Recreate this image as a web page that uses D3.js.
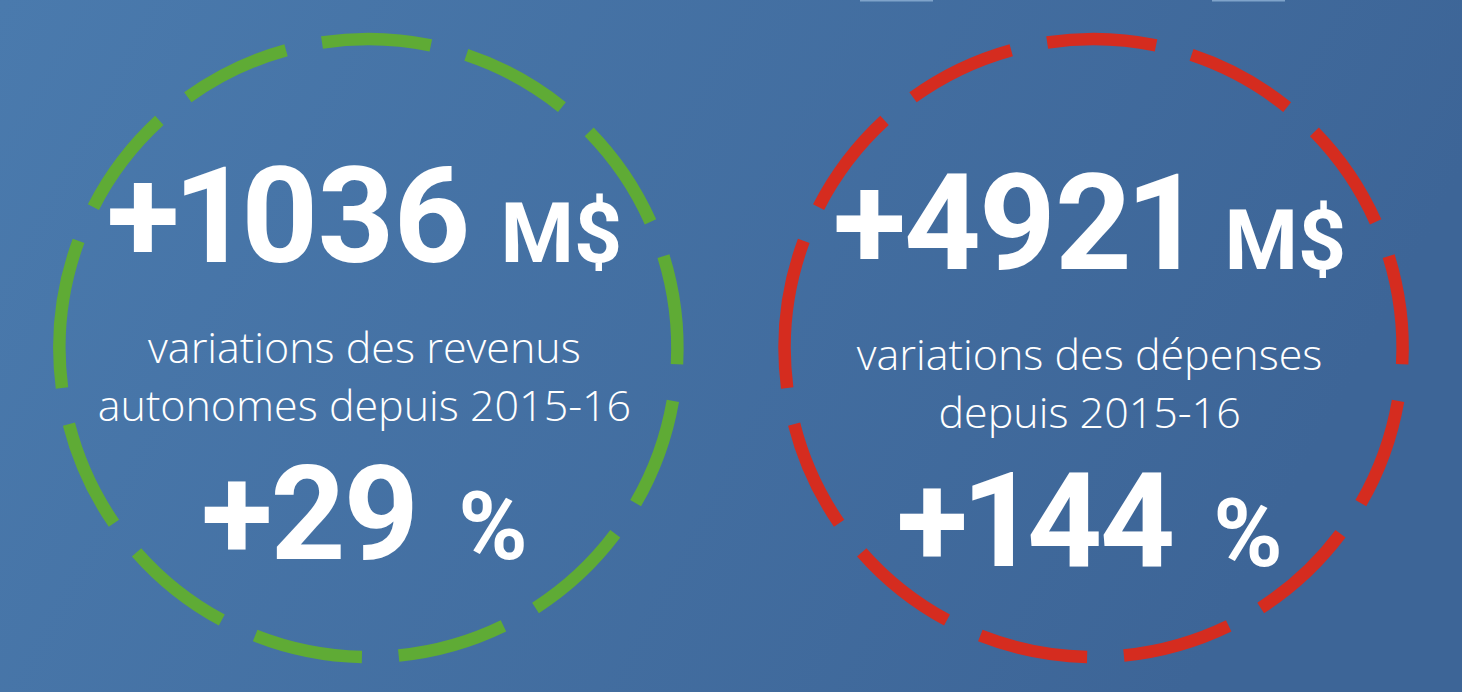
<!DOCTYPE html>
<html>
<head>
<meta charset="utf-8">
<script src="https://cdn.jsdelivr.net/npm/d3@7"></script>
<style>
  html, body { margin: 0; padding: 0; overflow: hidden; background: #4472a5; }
  text { fill: #fff; }
</style>
</head>
<body>
<div id="chart"></div>
<script>
// values
const amounts = [1036, 4921];          // variation in M$
const amountUnit = "M$";
const percents = [29, 144];            // variation in %
const percentUnit = "%";
const captions = [
    ["variations des revenus", "autonomes depuis 2015-16"],
    ["variations des dépenses", "depuis 2015-16"]
];
const ringColors = ["#5fab35", "#d52c1f"];

const width = 1462, height = 692;

const svg = d3.select("#chart").append("svg")
    .attr("width", width)
    .attr("height", height);

// background gradient
const grad = svg.append("defs").append("linearGradient")
    .attr("id", "bg")
    .attr("x1", "0%").attr("y1", "0%")
    .attr("x2", "100%").attr("y2", "25%");
grad.append("stop").attr("offset", "0%").attr("stop-color", "#4a7aad");
grad.append("stop").attr("offset", "100%").attr("stop-color", "#3d6597");

svg.append("rect")
    .attr("width", width)
    .attr("height", height)
    .attr("fill", "url(#bg)");

// faint marks cut off at the top edge
svg.selectAll(".edgeMark")
    .data([860, 1212])
    .join("rect")
    .attr("class", "edgeMark")
    .attr("x", d => d)
    .attr("y", 0)
    .attr("width", 73)
    .attr("height", 1.5)
    .attr("fill", "#7fa3ca");

// circle centres
const xScale = d3.scalePoint()
    .domain(d3.range(amounts.length))
    .range([0, width])
    .padding(0.508);
const cy = 348;
const radius = 309;
const ringWidth = 12.5;
const textShift = [0, 7]; // right block sits a bit lower

// dashed ring: the dash pattern starts at 9 o'clock and runs clockwise,
// the last partial dash joins the first one
const deg = Math.PI / 180;
const ringStart = 270 * deg;
const period = 27.12 * deg;
const dashLen = 20.3 * deg;

function ringDashes() {
    const out = [];
    for (let a = ringStart; a < ringStart + 2 * Math.PI; a += period) {
        out.push([a, Math.min(a + dashLen, ringStart + 2 * Math.PI)]);
    }
    const last = out[out.length - 1];
    if (last[1] >= ringStart + 2 * Math.PI - 1e-6) {
        out.pop();
        out[0][0] = last[0] - 2 * Math.PI;
    }
    return out;
}

const arc = d3.arc()
    .innerRadius(radius - ringWidth / 2)
    .outerRadius(radius + ringWidth / 2);

const panelData = amounts.map((a, i) => ({
    i,
    amount: a,
    percent: percents[i],
    caption: captions[i],
    color: ringColors[i]
}));

const rings = svg.selectAll(".ring")
    .data(panelData)
    .join("g")
    .attr("class", "ring")
    .attr("transform", d => `translate(${xScale(d.i)},${cy})`);

rings.selectAll("path")
    .data(d => ringDashes().map(s => ({ s, color: d.color })))
    .join("path")
    .attr("d", d => arc({ startAngle: d.s[0], endAngle: d.s[1] }))
    .attr("fill", d => d.color);

const fmt = d3.format("+d");
const bigFont = "Roboto, 'Open Sans', sans-serif";
const lightFont = "'Open Sans', 'Noto Sans', sans-serif";

// a number followed by its unit, centred as one line
function valueLine(g, y, big, small, bigSize, smallSize, gap) {
    const t1 = g.append("text")
        .attr("y", y)
        .attr("font-family", bigFont)
        .attr("font-weight", 700)
        .attr("font-size", bigSize)
        .attr("letter-spacing", -2)
        .style("font-variant-numeric", "proportional-nums")
        .text(big);
    const t2 = g.append("text")
        .attr("y", y)
        .attr("font-family", bigFont)
        .attr("font-weight", 700)
        .attr("font-size", smallSize)
        .text(small);
    const w1 = t1.node().getComputedTextLength();
    const w2 = t2.node().getComputedTextLength();
    const x0 = -(w1 + gap + w2) / 2;
    t1.attr("x", x0);
    t2.attr("x", x0 + w1 + gap);
}

svg.selectAll(".block")
    .data(panelData)
    .join("g")
    .attr("class", "block")
    .attr("transform", d => `translate(${xScale(d.i) - 4},${cy + textShift[d.i]})`)
    .each(function (d) {
        const g = d3.select(this);
        valueLine(g, -86, fmt(d.amount), amountUnit, 134, 84, 32);

        g.selectAll(".caption")
            .data(d.caption)
            .join("text")
            .attr("class", "caption")
            .attr("x", 0)
            .attr("y", (c, j) => 15 + j * 58)
            .attr("text-anchor", "middle")
            .attr("font-family", lightFont)
            .attr("font-weight", 300)
            .attr("font-size", 43)
            .text(c => c);

        valueLine(g, 211, fmt(d.percent), percentUnit, 131, 94, 40);
    });
</script>
</body>
</html>
